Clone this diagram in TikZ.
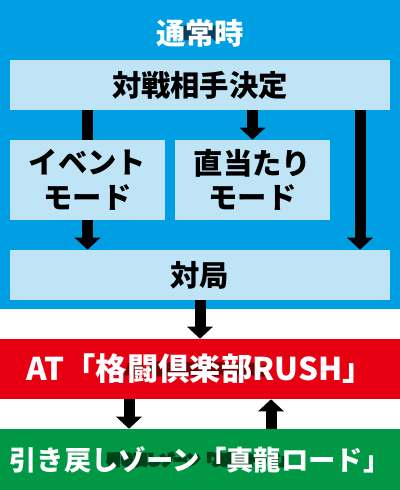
\documentclass[tikz,border=0pt]{standalone}
\usepackage{fontspec}
\setmainfont{Noto Sans CJK JP}[UprightFont={* Black}, BoldFont={* Black}]
\newfontfamily\rimfont{Noto Sans CJK JP}[UprightFont={* Black}, FakeBold=20]
\usetikzlibrary{arrows.meta}

\definecolor{tsujoblue}{HTML}{009FE3}
\definecolor{paleblue}{HTML}{BEE4F6}
\definecolor{atred}{HTML}{E60012}
\definecolor{zonegreen}{HTML}{009844}
\definecolor{navyedge}{HTML}{083E5C}
\definecolor{rededge}{HTML}{6E0000}
\definecolor{greenedge}{HTML}{00401A}

\tikzset{
    palebox/.style={fill=paleblue, inner sep=0pt, align=center,
        font=\fontsize{22}{26}\selectfont},
    band/.style={minimum width=300pt, minimum height=45pt, inner sep=0pt},
    flow/.style={line width=8.25pt, -{Triangle[width=18.75pt,length=9pt]}},
    titletext/.style={inner sep=0pt, font=\fontsize{22}{24}\selectfont},
    rushtext/.style={inner sep=0pt, font=\fontsize{23.5}{26}\selectfont},
    zonetext/.style={inner sep=0pt, font=\fontsize{20.5}{26}\selectfont},
    rimmed/.style={font=\rimfont}
}

\begin{document}
\begin{tikzpicture}[x=0.75pt, y=-0.75pt]
    \useasboundingbox (0,0) rectangle (400,490);
    \fill[tsujoblue] (0,0) rectangle (400,309);

    % dark rim first (stroked glyphs), white text on top
    \node[titletext, text=navyedge, font=\rimfont] (titlerim) at (200,33) {通常時};
    \node[titletext, text=white] (title) at (200,33) {通常時};

    \node[palebox, minimum width=285pt, minimum height=37.5pt] (decide) at (200,85) {対戦相手決定};
    \node[palebox, minimum width=285pt, minimum height=37.5pt] (taikyoku) at (200,275) {対局};
    \coordinate (rightlane) at (360,0);

    % left lane runs behind the event box
    \draw[flow] (decide.south -| 87.5,0) -- (taikyoku.north -| 87.5,0);

    \node[palebox, minimum width=116.25pt, minimum height=60pt] (event) at (87.5,180) {イベント\\モード};
    \node[palebox, minimum width=116.25pt, minimum height=60pt] (direct) at (252.5,180) {直当たり\\モード};

    \draw[flow] (decide.south -| direct) -- (direct.north);
    \draw[flow] (decide.south -| rightlane) -- (taikyoku.north -| rightlane);

    \node[band, fill=atred] (rush) at (200,369) {};
    \node[band, fill=zonegreen, minimum height=45.75pt] (zone) at (200,459.5) {};

    \node[rushtext, text=rededge, font=\rimfont] (rushrim) at (rush.center) {AT「格闘倶楽部RUSH」};
    \node[zonetext, text=greenedge, font=\rimfont] (zonerim) at (zone.center) {引き戻しゾーン「真龍ロード」};
    \node[rushtext, text=white] (rushlabel) at (rush.center) {AT「格闘倶楽部RUSH」};
    \node[zonetext, text=white] (zonelabel) at (zone.center) {引き戻しゾーン「真龍ロード」};

    \draw[flow] (taikyoku.south) -- (rush.north);
    \coordinate (downlane) at (129,0);
    \coordinate (uplane) at (271,0);
    \draw[flow] (rush.south -| downlane) -- (zone.north -| downlane);
    \draw[flow] (zone.north -| uplane) -- (rush.south -| uplane);
\end{tikzpicture}
\end{document}
